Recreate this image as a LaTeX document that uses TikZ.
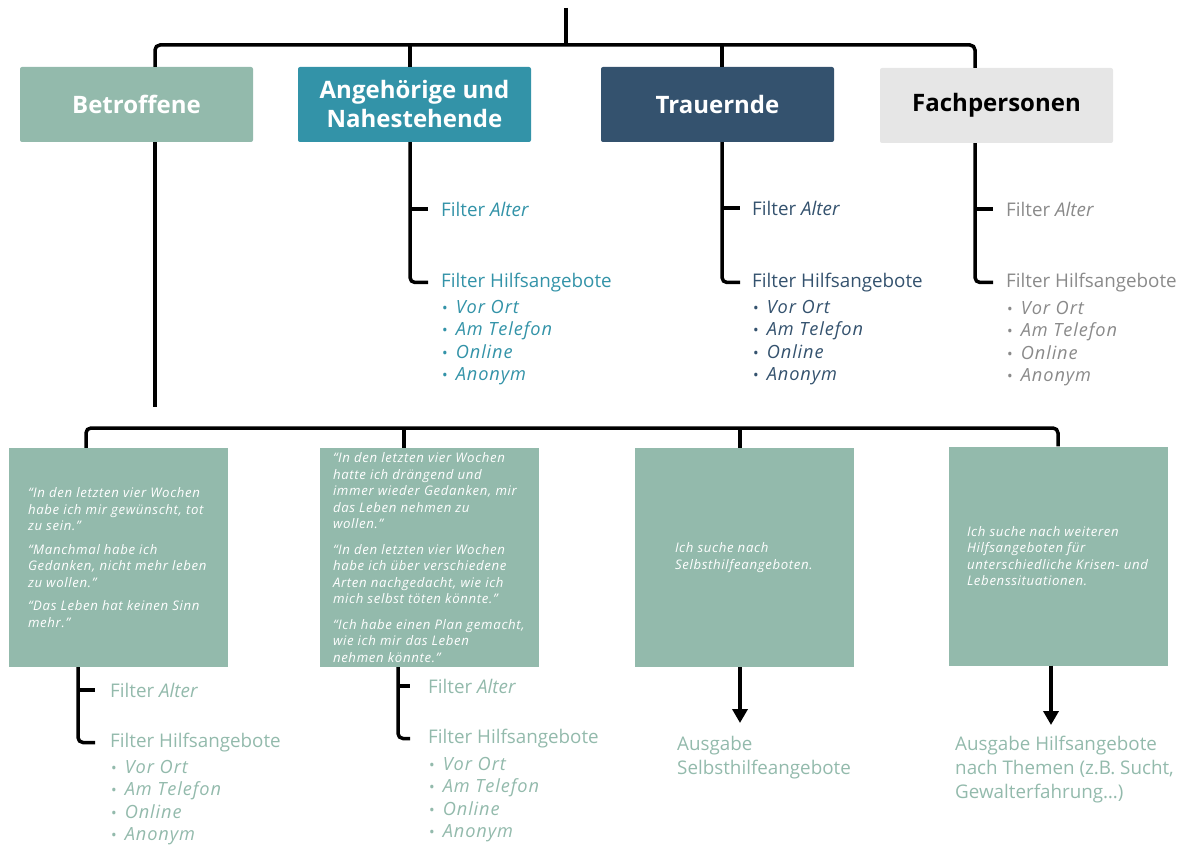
\documentclass[tikz,border=0pt]{standalone}
\usepackage{fontspec}
\setmainfont{Open Sans}
\usetikzlibrary{arrows.meta}

\definecolor{sage}{HTML}{93BAAC}
\definecolor{petrol}{HTML}{3393A8}
\definecolor{marine}{HTML}{34526E}
\definecolor{greybox}{HTML}{E6E6E6}
\definecolor{greytext}{HTML}{8A8A8A}

\newcommand{\lpunkt}[1]{\hspace{1pt}{\upshape\fontsize{15}{15}\selectfont•}\hspace{8pt}#1}

\tikzset{
  conn/.style={line width=3.5pt, rounded corners=5pt},
  arr/.style={line width=3.5pt, -{Triangle[width=15pt,length=14pt]}},
  head/.style={rectangle, rounded corners=2pt, minimum width=233pt, minimum height=75pt,
    inner sep=0pt, align=center, font=\bfseries\fontsize{24}{29}\selectfont},
  qbox/.style={rectangle, fill=sage, minimum width=219pt, minimum height=219pt, inner sep=0pt},
  quote/.style={anchor=west, inner sep=0pt, align=left, text=white,
    font=\itshape\fontsize{13.2}{16.5}\selectfont\addfontfeatures{LetterSpace=5}},
  filt/.style={anchor=west, inner sep=0pt, font=\fontsize{18.8}{22.5}\selectfont},
  liste/.style={anchor=north west, inner sep=0pt, align=left,
    font=\itshape\fontsize{18.2}{22.4}\selectfont\addfontfeatures{LetterSpace=5}},
  ausg/.style={anchor=north west, inner sep=0pt, align=left, text=sage,
    font=\fontsize{18.8}{24}\selectfont}
}

\begin{document}
\begin{tikzpicture}[x=1pt,y=-1pt]
\useasboundingbox (0,0) rectangle (1179,845);

% Zielgruppen
\node[head, fill=sage, text=white] (bet) at (136.5,104.5) {Betroffene};
\node[head, fill=petrol, text=white] (ang) at (414.5,104.5) {Angehörige und\\Nahestehende};
\node[head, fill=marine, text=white] (trau) at (717.5,104.5) {Trauernde};
\node[head, fill=greybox, text=black] (fach) at (996.5,105.5) {Fachpersonen};

\coordinate (top) at (566,8);
\coordinate (hub) at (566,45);
\coordinate (k1) at (155,45);
\coordinate (k2) at (410,45);
\coordinate (k3) at (722,45);
\coordinate (k4) at (975,45);
\draw[conn] (top) -- (hub);
\draw[conn] (bet.north -| k1) -- (k1) -- (k4) -- (fach.north -| k4);
\draw[conn] (k2) -- (ang.north -| k2);
\draw[conn] (k3) -- (trau.north -| k3);

% Betroffene -> Aussagen
\coordinate (betend) at (155,407);
\draw[conn] (bet.south -| betend) -- (betend);

% Filter Angehoerige
\node[filt, text=petrol] (ang-alter) at (441,209) {Filter \textit{Alter}};
\node[filt, text=petrol] (ang-hilfe) at (441,282.5) {Filter Hilfsangebote};
\node[liste, text=petrol] (ang-liste) at (441,300) {\lpunkt{Vor Ort}\\\lpunkt{Am Telefon}\\\lpunkt{Online}\\\lpunkt{Anonym}};
\draw[conn] (ang.south -| k2) |- ([xshift=-13pt]ang-hilfe.west);
\draw[conn] (ang-alter.west -| k2) -- ([xshift=-13pt]ang-alter.west);

% Filter Trauernde
\node[filt, text=marine] (trau-alter) at (752,208) {Filter \textit{Alter}};
\node[filt, text=marine] (trau-hilfe) at (752,282.5) {Filter Hilfsangebote};
\node[liste, text=marine] (trau-liste) at (752,300) {\lpunkt{Vor Ort}\\\lpunkt{Am Telefon}\\\lpunkt{Online}\\\lpunkt{Anonym}};
\draw[conn] (trau.south -| k3) |- ([xshift=-12pt]trau-hilfe.west);
\draw[conn] (trau-alter.west -| k3) -- ([xshift=-12pt]trau-alter.west);

% Filter Fachpersonen
\node[filt, text=greytext] (fach-alter) at (1006,209) {Filter \textit{Alter}};
\node[filt, text=greytext] (fach-hilfe) at (1006,282.5) {Filter Hilfsangebote};
\node[liste, text=greytext] (fach-liste) at (1006,301) {\lpunkt{Vor Ort}\\\lpunkt{Am Telefon}\\\lpunkt{Online}\\\lpunkt{Anonym}};
\draw[conn] (fach.south -| k4) |- ([xshift=-13pt]fach-hilfe.west);
\draw[conn] (fach-alter.west -| k4) -- ([xshift=-13pt]fach-alter.west);

% Aussagen
\node[qbox] (q1) at (118.5,557.5) {};
\node[qbox] (q2) at (429.5,557.5) {};
\node[qbox] (q3) at (744.5,557.5) {};
\node[qbox] (q4) at (1058.5,556) {};
\node[quote] (q1-text) at ([xshift=19pt]q1.west) {“In den letzten vier Wochen\\habe ich mir gewünscht, tot\\zu sein.”\\[7pt]“Manchmal habe ich\\Gedanken, nicht mehr leben\\zu wollen.”\\[7pt]“Das Leben hat keinen Sinn\\mehr.”};
\node[quote] (q2-text) at ([xshift=13pt]q2.west) {“In den letzten vier Wochen\\hatte ich drängend und\\immer wieder Gedanken, mir\\das Leben nehmen zu\\wollen.”\\[9pt]“In den letzten vier Wochen\\habe ich über verschiedene\\Arten nachgedacht, wie ich\\mich selbst töten könnte.”\\[9pt]“Ich habe einen Plan gemacht,\\wie ich mir das Leben\\nehmen könnte.”};
\node[quote] (q3-text) at ([xshift=40pt]q3.west) {Ich suche nach\\Selbsthilfeangeboten.};
\node[quote] (q4-text) at ([xshift=18pt]q4.west) {Ich suche nach weiteren\\Hilfsangeboten für\\unterschiedliche Krisen- und\\Lebenssituationen.};

\coordinate (m1) at (86,428);
\coordinate (m2) at (404,428);
\coordinate (m3) at (740,428);
\coordinate (m4) at (1058,428);
\draw[conn] (q1.north -| m1) -- (m1) -- (m4) -- (q4.north -| m4);
\draw[conn] (m2) -- (q2.north -| m2);
\draw[conn] (m3) -- (q3.north -| m3);

% Filter unter den Aussagen
\coordinate (v1) at (78,0);
\node[filt, text=sage] (q1-alter) at (110,690) {Filter \textit{Alter}};
\node[filt, text=sage] (q1-hilfe) at (110,742.5) {Filter Hilfsangebote};
\node[liste, text=sage] (q1-liste) at (110,760) {\lpunkt{Vor Ort}\\\lpunkt{Am Telefon}\\\lpunkt{Online}\\\lpunkt{Anonym}};
\draw[conn] (q1.south -| v1) |- ([xshift=-15pt]q1-hilfe.west);
\draw[conn] (q1-alter.west -| v1) -- ([xshift=-15pt]q1-alter.west);

\coordinate (v2) at (398,0);
\node[filt, text=sage] (q2-alter) at (428,686) {Filter \textit{Alter}};
\node[filt, text=sage] (q2-hilfe) at (428,738.5) {Filter Hilfsangebote};
\node[liste, text=sage] (q2-liste) at (428,757) {\lpunkt{Vor Ort}\\\lpunkt{Am Telefon}\\\lpunkt{Online}\\\lpunkt{Anonym}};
\draw[conn] (q2.south -| v2) |- ([xshift=-18pt]q2-hilfe.west);
\draw[conn] (q2-alter.west -| v2) -- ([xshift=-18pt]q2-alter.west);

% Ausgaben
\coordinate (p3) at (740,723);
\coordinate (p4) at (1051,725);
\draw[arr] (q3.south -| p3) -- (p3);
\draw[arr] (q4.south -| p4) -- (p4);
\node[ausg] (aus3) at (677,736) {Ausgabe\\Selbsthilfeangebote};
\node[ausg] (aus4) at (955,736) {Ausgabe Hilfsangebote\\nach Themen (z.B. Sucht,\\Gewalterfahrung…)};
\end{tikzpicture}
\end{document}
